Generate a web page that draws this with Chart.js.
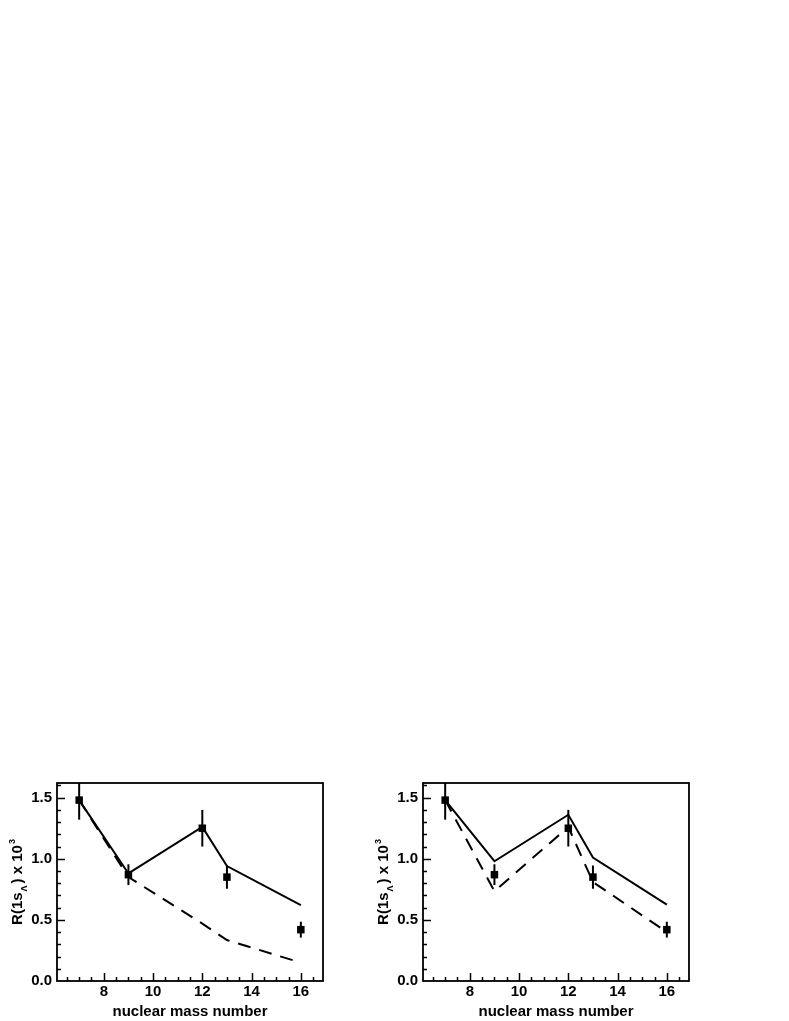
<!DOCTYPE html>
<html>
<head>
<meta charset="utf-8">
<script src="https://cdn.jsdelivr.net/npm/chart.js@4"></script>
<style>
  body { margin: 0; background: #fff; width: 789px; height: 1021px; position: relative; overflow: hidden; }
  .panel { position: absolute; top: 740px; width: 390px; height: 281px; }
</style>
</head>
<body>
<div class="panel" style="left:0"><canvas id="leftPanel" width="390" height="281"></canvas></div>
<div class="panel" style="left:366px"><canvas id="rightPanel" width="390" height="281"></canvas></div>
<script>
// données
const massNumbers = [7, 9, 12, 13, 16];
const measured = [1.48, 0.87, 1.25, 0.85, 0.42];
const measuredErr = [0.16, 0.085, 0.15, 0.095, 0.065];
const leftSolid = [1.48, 0.88, 1.26, 0.94, 0.62];
const leftDashed = [1.48, 0.85, 0.47, 0.335, 0.15];
const rightSolid = [1.48, 0.98, 1.36, 1.01, 0.625];
const rightDashed = [1.48, 0.735, 1.26, 0.81, 0.40];
const xTicks = [8, 10, 12, 14, 16];
const yTicks = [0.0, 0.5, 1.0, 1.5];

const FONT = '"Liberation Sans", Arial, Helvetica, sans-serif';

function points(vals) {
    return massNumbers.map((m, i) => ({ x: m, y: vals[i] }));
}

// barres d'erreur
const errorBars = {
    id: 'errorBars',
    afterDatasetsDraw(chart) {
        const { ctx, chartArea: a, scales: { x, y } } = chart;
        ctx.save();
        ctx.beginPath();
        ctx.rect(a.left, a.top, a.right - a.left, a.bottom - a.top);
        ctx.clip();
        ctx.strokeStyle = '#000';
        ctx.lineWidth = 2;
        massNumbers.forEach((m, i) => {
            const px = x.getPixelForValue(m);
            ctx.beginPath();
            ctx.moveTo(px, y.getPixelForValue(measured[i] - measuredErr[i]));
            ctx.lineTo(px, y.getPixelForValue(measured[i] + measuredErr[i]));
            ctx.stroke();
        });
        ctx.restore();
    }
};

// cadre + graduations vers l'intérieur (style ROOT)
const frameTicks = {
    id: 'frameTicks',
    afterDraw(chart) {
        const { ctx, chartArea: a, scales: { x, y } } = chart;
        ctx.save();
        ctx.strokeStyle = '#000';
        ctx.lineWidth = 1.5;
        for (let k = 1; k <= 16; k++) {
            const v = k / 10;
            if (v > y.max) break;
            const py = Math.round(y.getPixelForValue(v)) + 0.5;
            const len = (k % 5 === 0) ? 8 : 4;
            ctx.beginPath();
            ctx.moveTo(a.left, py);
            ctx.lineTo(a.left + len, py);
            ctx.stroke();
        }
        for (let k = 13; k <= 33; k++) {
            const v = k / 2;
            if (v < x.min || v > x.max) continue;
            const px = Math.round(x.getPixelForValue(v)) + 0.5;
            const len = (k % 4 === 0) ? 8 : 4;
            ctx.beginPath();
            ctx.moveTo(px, a.bottom);
            ctx.lineTo(px, a.bottom - len);
            ctx.stroke();
        }
        ctx.lineWidth = 1.8;
        ctx.strokeRect(a.left, a.top, a.right - a.left, a.bottom - a.top);
        ctx.restore();
    }
};

// titre de l'axe Y avec indice et exposant
const yTitle = {
    id: 'yTitle',
    afterDraw(chart) {
        const { ctx, chartArea: a } = chart;
        const big = 'bold 15px ' + FONT;
        const small = 'bold 9px ' + FONT;
        const parts = [
            { t: 'R(1s', f: big, dy: 0, gap: 0 },
            { t: 'Λ', f: small, dy: 5, gap: 1 },
            { t: ') x 10', f: big, dy: 0, gap: 2 },
            { t: '3', f: small, dy: -7, gap: 1 }
        ];
        ctx.save();
        let total = 0;
        parts.forEach(p => { ctx.font = p.f; p.w = ctx.measureText(p.t).width; total += p.w + p.gap; });
        ctx.translate(22, (a.top + a.bottom) / 2);
        ctx.rotate(-Math.PI / 2);
        ctx.fillStyle = '#000';
        ctx.textBaseline = 'alphabetic';
        let cx = -total / 2;
        parts.forEach(p => {
            cx += p.gap;
            ctx.font = p.f;
            ctx.fillText(p.t, cx, p.dy);
            cx += p.w;
        });
        ctx.restore();
    }
};

function makeChart(id, solid, dashed) {
    return new Chart(document.getElementById(id), {
        type: 'scatter',
        data: {
            datasets: [{
                data: points(measured),
                pointStyle: 'rect',
                pointRadius: 5.3,
                backgroundColor: '#000',
                borderColor: '#000',
                borderWidth: 0,
                showLine: false
            }, {
                data: points(solid),
                showLine: true,
                borderColor: '#000',
                borderWidth: 2,
                pointRadius: 0
            }, {
                data: points(dashed),
                showLine: true,
                borderColor: '#000',
                borderWidth: 2,
                borderDash: [13, 9],
                pointRadius: 0
            }]
        },
        options: {
            responsive: false,
            devicePixelRatio: 1,
            animation: false,
            layout: { padding: { left: 0, top: 43, right: 67, bottom: 0 } },
            plugins: { legend: { display: false }, tooltip: { enabled: false } },
            scales: {
                x: {
                    type: 'linear',
                    min: 6.1,
                    max: 16.9,
                    grid: { display: false, drawTicks: false },
                    border: { display: false },
                    afterBuildTicks: (s) => { s.ticks = xTicks.map(v => ({ value: v })); },
                    afterFit: (s) => { s.height = 40; },
                    ticks: {
                        color: '#000',
                        padding: 2,
                        autoSkip: false,
                        maxRotation: 0,
                        font: { family: FONT, size: 15, weight: 'bold' },
                        callback: (v) => String(v)
                    },
                    title: {
                        display: true,
                        text: 'nuclear mass number',
                        color: '#000',
                        padding: { top: 0, bottom: 0 },
                        font: { family: FONT, size: 15, weight: 'bold', lineHeight: 1.25 }
                    }
                },
                y: {
                    min: 0,
                    max: 1.62,
                    grid: { display: false, drawTicks: false },
                    border: { display: false },
                    afterBuildTicks: (s) => { s.ticks = yTicks.map(v => ({ value: v })); },
                    afterFit: (s) => { s.width = 57; },
                    ticks: {
                        color: '#000',
                        padding: 5,
                        autoSkip: false,
                        font: { family: FONT, size: 15, weight: 'bold' },
                        callback: (v) => Number(v).toFixed(1)
                    }
                }
            }
        },
        plugins: [errorBars, frameTicks, yTitle]
    });
}

makeChart('leftPanel', leftSolid, leftDashed);
makeChart('rightPanel', rightSolid, rightDashed);
</script>
</body>
</html>
